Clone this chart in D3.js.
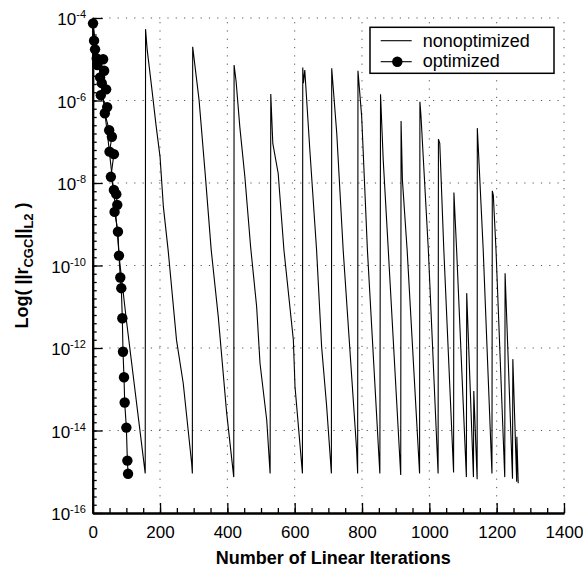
<!DOCTYPE html>
<html>
<head>
<meta charset="utf-8">
<script src="https://cdn.jsdelivr.net/npm/d3@7"></script>
<style>
  html, body { margin: 0; padding: 0; background: #fff; }
  svg { display: block; }
  text { font-family: "Liberation Sans", Arial, Helvetica, sans-serif; fill: #000; }
</style>
</head>
<body>
<svg id="chart" width="583" height="572"></svg>
<script>
// ---------------- data (log10 of residual) ----------------
const nonoptIter = [0, 20, 45, 65, 80, 100, 156,
  157, 162, 175, 188, 200, 210, 224, 249, 269, 294, 296,
  297, 316, 334, 352, 373, 398, 419,
  420, 426, 437, 452, 469, 487, 497, 517, 527,
  529, 535, 551, 568, 596, 601, 623,
  624, 626, 630, 645, 665, 680, 695, 709,
  710, 725, 744, 784, 787,
  788, 799, 816, 853,
  855, 863, 878, 915,
  916, 920, 934, 971,
  972, 975, 997, 1026,
  1027, 1031, 1043, 1072,
  1073, 1081, 1110,
  1111, 1131,
  1132, 1142,
  1142.5, 1145, 1160, 1186,
  1187, 1190, 1198, 1224,
  1225, 1247,
  1248, 1259.5,
  1260, 1264];
const nonoptLog = [-4.15, -5.2, -6.9, -8.4, -9.9, -11.32, -15.04,
  -4.27, -4.78, -5.67, -6.59, -7.36, -8.58, -9.62, -11.81, -12.86, -14.80, -15.04,
  -4.70, -5.99, -7.76, -9.62, -11.24, -13.58, -15.13,
  -5.14, -5.54, -6.64, -7.85, -9.54, -11.0, -12.37, -13.75, -15.04,
  -5.84, -7.04, -7.77, -9.62, -11.8, -12.94, -15.04,
  -5.20, -5.58, -5.26, -7.2, -9.62, -11.97, -13.42, -15.04,
  -5.22, -6.80, -9.62, -14.47, -15.04,
  -5.28, -6.39, -9.62, -15.04,
  -5.85, -7.44, -9.62, -15.08,
  -6.50, -7.93, -9.62, -15.04,
  -6.03, -6.35, -9.62, -15.04,
  -6.94, -7.04, -9.62, -15.02,
  -8.23, -9.62, -15.13,
  -10.67, -15.13,
  -13.04, -15.18,
  -6.67, -7.08, -9.62, -15.04,
  -8.19, -8.29, -9.62, -15.13,
  -10.19, -15.17,
  -12.27, -15.24,
  -14.15, -15.28];

const optIter = [1, 4, 7, 12, 31, 14, 34, 22, 27, 40, 24, 43, 36, 49, 57, 50, 63, 54,
  63, 70, 73, 65, 75, 78, 82, 85, 88, 90, 93, 95, 100, 103, 105];
const optLog = [-4.13, -4.55, -4.76, -4.98, -5.00, -5.14, -5.28, -5.44, -5.58, -5.73, -5.87,
  -6.16, -6.31, -6.72, -6.88, -7.24, -7.30, -7.85, -8.17, -8.27, -8.53, -8.70, -9.18,
  -9.76, -10.29, -10.55, -11.28, -12.09, -12.71, -13.32, -13.93, -14.73, -15.05];

const xTickVals = [0, 200, 400, 600, 800, 1000, 1200, 1400];
const yTickExps = [-4, -6, -8, -10, -12, -14, -16];
const seriesNames = ["nonoptimized", "optimized"];

// ---------------- layout ----------------
const svg = d3.select("#chart");
const L = 92.7, R = 564, T = 18, B = 513;

const x = d3.scaleLinear().domain([0, 1400]).range([L, R]);
const y = d3.scaleLog().domain([1e-16, 1e-4]).range([B, T]);

// grid (dotted)
const grid = svg.append("g").attr("stroke", "#555").attr("stroke-width", 1)
  .attr("stroke-dasharray", "1.2,7.1");
grid.selectAll("line.v").data(xTickVals.filter(v => v > 0)).join("line")
  .attr("x1", d => x(d)).attr("x2", d => x(d))
  .attr("y1", B).attr("y2", T);
grid.selectAll("line.h").data(yTickExps.filter(e => e > -16)).join("line")
  .attr("y1", d => y(Math.pow(10, d))).attr("y2", d => y(Math.pow(10, d)))
  .attr("x1", L).attr("x2", R);

// axes
const xMinor = d3.range(0, 1401, 50);
const gxMinor = svg.append("g").attr("transform", `translate(0,${B})`)
  .call(d3.axisBottom(x).tickValues(xMinor).tickSize(-5).tickSizeOuter(0).tickFormat(""));
const gx = svg.append("g").attr("transform", `translate(0,${B})`)
  .call(d3.axisBottom(x).tickValues(xTickVals).tickSize(-10).tickSizeOuter(0).tickPadding(13)
    .tickFormat(d3.format("d")));
gx.selectAll("text").attr("font-size", 17).attr("dy", "0.71em");

const yMinorVals = d3.range(0, 61).map(i => Math.pow(10, -16 + i * 0.2));
const gyMinor = svg.append("g").attr("transform", `translate(${L},0)`)
  .call(d3.axisLeft(y).tickValues(yMinorVals).tickSize(-4).tickSizeOuter(0).tickFormat(""));
const gy = svg.append("g").attr("transform", `translate(${L},0)`)
  .call(d3.axisLeft(y).tickValues(yTickExps.map(e => Math.pow(10, e))).tickSize(-10).tickSizeOuter(0).tickFormat(""));

[gxMinor, gx, gyMinor, gy].forEach(g => {
  g.selectAll("line").attr("stroke", "#000").attr("stroke-width", 1.3);
  g.select(".domain").attr("stroke", "#000").attr("stroke-width", 2);
});

// y tick labels 10^n
const yl = svg.append("g");
yTickExps.forEach(e => {
  const t = yl.append("text").attr("x", 86).attr("y", y(Math.pow(10, e)) + 7)
    .attr("text-anchor", "end").attr("font-size", 17);
  t.append("tspan").text("10");
  t.append("tspan").attr("font-size", 11).attr("dy", -7).text(String(e));
});

// axis titles
svg.append("text").attr("x", (L + R) / 2 + 5).attr("y", 564)
  .attr("text-anchor", "middle").attr("font-size", 18).attr("font-weight", "bold")
  .text("Number of Linear Iterations");

const yt = svg.append("text")
  .attr("transform", `translate(28,${(T + B) / 2}) rotate(-90)`)
  .attr("text-anchor", "middle").attr("font-size", 18).attr("font-weight", "bold");
yt.append("tspan").text("Log( ||r");
yt.append("tspan").attr("font-size", 13).attr("dy", 5).text("CGC");
yt.append("tspan").attr("dy", -5).text("||");
yt.append("tspan").attr("font-size", 13).attr("dy", 5).text("L2");
yt.append("tspan").attr("dy", -5).text(" )");

// series
const nonopt = nonoptIter.map((v, i) => [v, Math.pow(10, nonoptLog[i])]);
const opt = optIter.map((v, i) => [v, Math.pow(10, optLog[i])]);
const line = d3.line().x(d => x(d[0])).y(d => y(d[1]));

svg.append("path").datum(nonopt).attr("d", line)
  .attr("fill", "none").attr("stroke", "#000").attr("stroke-width", 1.1);
svg.append("path").datum(opt).attr("d", line)
  .attr("fill", "none").attr("stroke", "#000").attr("stroke-width", 1.1);
svg.append("g").selectAll("circle").data(opt).join("circle")
  .attr("cx", d => x(d[0])).attr("cy", d => y(d[1])).attr("r", 5.2).attr("fill", "#000");

// legend
const lg = svg.append("g");
lg.append("rect").attr("x", 370).attr("y", 27.3).attr("width", 184).attr("height", 46)
  .attr("fill", "#fff").attr("stroke", "#000").attr("stroke-width", 1.5);
lg.append("line").attr("x1", 380.7).attr("x2", 411.7).attr("y1", 40.7).attr("y2", 40.7)
  .attr("stroke", "#000").attr("stroke-width", 1.1);
lg.append("line").attr("x1", 380.7).attr("x2", 411.7).attr("y1", 61.7).attr("y2", 61.7)
  .attr("stroke", "#000").attr("stroke-width", 1.1);
lg.append("circle").attr("cx", 397.3).attr("cy", 61.7).attr("r", 5.2).attr("fill", "#000");
lg.append("text").attr("x", 422.7).attr("y", 46.7).attr("font-size", 18).text(seriesNames[0]);
lg.append("text").attr("x", 422.7).attr("y", 66.7).attr("font-size", 18).text(seriesNames[1]);
</script>
</body>
</html>
